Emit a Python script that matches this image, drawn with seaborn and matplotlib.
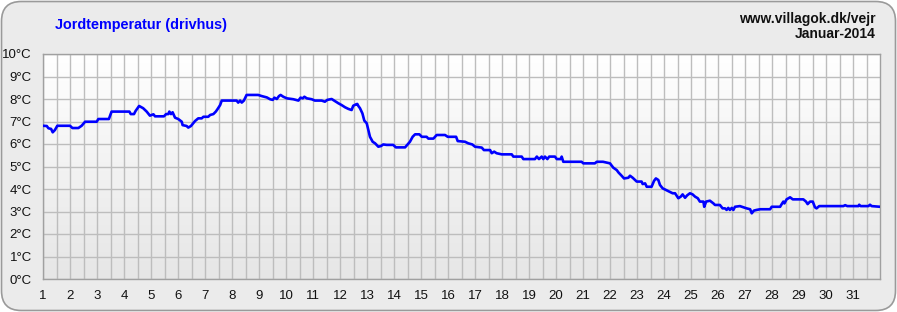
import numpy as np
import pandas as pd
import matplotlib
matplotlib.use("Agg")
import matplotlib.pyplot as plt
from matplotlib.patches import FancyBboxPatch
import seaborn as sns

title = "Jordtemperatur (drivhus)"
site = "www.villagok.dk/vejr"
period = "Januar-2014"

day_ticks = list(range(1, 32))
temp_ticks = list(range(0, 11))
temp_labels = [f"{t}°C" for t in temp_ticks]

# readings, split into stretches of the month
days_1 = [1.00, 1.14, 1.20, 1.30, 1.36, 1.44, 1.53, 2.00, 2.09, 2.31,
          2.43, 2.56, 2.99, 3.05, 3.44, 3.54, 4.20, 4.25, 4.37, 4.43,
          4.56, 4.71, 4.84, 4.96, 5.09, 5.15, 5.48, 5.56, 5.64, 5.68,
          5.74, 5.80, 5.89, 6.01, 6.14]
temps_1 = [6.81, 6.80, 6.70, 6.67, 6.52, 6.62, 6.81, 6.81, 6.71, 6.71,
           6.81, 6.99, 6.99, 7.11, 7.11, 7.44, 7.44, 7.33, 7.33, 7.47,
           7.69, 7.59, 7.44, 7.26, 7.32, 7.23, 7.23, 7.33, 7.33, 7.44,
           7.33, 7.41, 7.17, 7.11, 6.99]

days_2 = [6.17, 6.32, 6.38, 6.48, 6.63, 6.75, 6.88, 6.94, 7.12, 7.19,
          7.31, 7.40, 7.47, 7.56, 7.62, 8.17, 8.23, 8.30, 8.36, 8.44,
          8.54, 8.97, 9.10, 9.29, 9.41, 9.51, 9.57, 9.66, 9.74, 9.80,
          9.90, 10.03, 10.27, 10.46, 10.54, 10.62, 10.68, 10.77, 10.95, 11.07,
          11.32]
temps_2 = [6.84, 6.80, 6.73, 6.80, 7.02, 7.14, 7.14, 7.21, 7.21, 7.29,
           7.33, 7.44, 7.56, 7.73, 7.93, 7.93, 7.84, 7.93, 7.84, 7.93,
           8.18, 8.18, 8.13, 8.07, 7.99, 7.96, 8.06, 8.00, 8.13, 8.18,
           8.10, 8.03, 7.99, 7.93, 8.06, 8.03, 8.10, 8.03, 7.99, 7.93,
           7.93]

days_3 = [11.44, 11.53, 11.69, 11.81, 11.94, 12.06, 12.19, 12.31, 12.43, 12.49,
          12.59, 12.64, 12.68, 12.74, 12.83, 12.90, 12.99, 13.05, 13.11, 13.21,
          13.30, 13.42, 13.52, 13.60, 13.73, 13.97, 14.07, 14.41, 14.49, 14.59,
          14.69, 14.78, 14.94, 15.03, 15.21, 15.27, 15.46, 15.58, 15.89, 15.99,
          16.30, 16.36]
temps_3 = [7.88, 7.96, 8.00, 7.91, 7.81, 7.73, 7.63, 7.56, 7.51, 7.70,
           7.76, 7.78, 7.69, 7.59, 7.36, 7.04, 6.92, 6.62, 6.32, 6.10,
           6.03, 5.88, 5.91, 5.98, 5.96, 5.96, 5.85, 5.85, 5.96, 6.10,
           6.32, 6.43, 6.43, 6.32, 6.32, 6.24, 6.24, 6.40, 6.40, 6.32,
           6.32, 6.13]

days_4 = [16.63, 16.75, 16.90, 17.00, 17.25, 17.33, 17.56, 17.62, 17.71, 17.80,
          17.99, 18.36, 18.42, 18.73, 18.79, 19.22, 19.29, 19.37, 19.47, 19.53,
          19.59, 19.68, 19.75, 19.96, 20.03, 20.17, 20.21, 20.27, 20.95, 21.01,
          21.44, 21.51, 21.74]
temps_4 = [6.10, 6.03, 5.98, 5.88, 5.84, 5.73, 5.73, 5.59, 5.66, 5.59,
           5.54, 5.54, 5.44, 5.44, 5.33, 5.33, 5.44, 5.33, 5.44, 5.33,
           5.44, 5.33, 5.44, 5.44, 5.33, 5.33, 5.44, 5.21, 5.21, 5.14,
           5.14, 5.21, 5.21]

days_5 = [22.00, 22.12, 22.25, 22.31, 22.43, 22.52, 22.68, 22.74, 22.84, 22.93,
          22.99, 23.17, 23.21, 23.30, 23.36, 23.54, 23.63, 23.70, 23.79, 23.85,
          23.95, 24.07, 24.20, 24.32, 24.41, 24.53, 24.62, 24.69, 24.78, 24.86,
          24.96, 25.06, 25.15, 25.25, 25.33, 25.46, 25.49, 25.56, 25.70, 25.83,
          25.89, 26.07, 26.17, 26.26, 26.32, 26.38, 26.44, 26.51, 26.57, 26.63]
temps_5 = [5.14, 4.95, 4.84, 4.74, 4.59, 4.47, 4.50, 4.59, 4.50, 4.40,
           4.33, 4.33, 4.22, 4.25, 4.10, 4.10, 4.36, 4.47, 4.40, 4.18,
           4.03, 3.96, 3.88, 3.81, 3.81, 3.59, 3.66, 3.76, 3.61, 3.72,
           3.81, 3.76, 3.66, 3.59, 3.44, 3.44, 3.21, 3.44, 3.48, 3.36,
           3.29, 3.29, 3.14, 3.14, 3.07, 3.16, 3.07, 3.16, 3.07, 3.21]

days_6 = [26.81, 27.06, 27.19, 27.25, 27.33, 27.43, 27.56, 27.93, 27.99, 28.30,
          28.36, 28.42, 28.46, 28.54, 28.67, 28.77, 29.16, 29.26, 29.32, 29.41,
          29.51, 29.59, 29.65, 29.75, 29.84, 30.64, 30.71, 30.79, 31.20, 31.23,
          31.28, 31.57, 31.63, 31.69, 32.00]
temps_6 = [3.24, 3.14, 3.10, 2.92, 3.04, 3.07, 3.10, 3.10, 3.21, 3.21,
           3.33, 3.44, 3.36, 3.54, 3.63, 3.54, 3.54, 3.44, 3.33, 3.44,
           3.44, 3.19, 3.14, 3.24, 3.24, 3.24, 3.28, 3.24, 3.24, 3.30,
           3.24, 3.24, 3.30, 3.24, 3.21]

days = days_1 + days_2 + days_3 + days_4 + days_5 + days_6
temps = temps_1 + temps_2 + temps_3 + temps_4 + temps_5 + temps_6
n = min(len(days), len(temps))
df = pd.DataFrame({"day": days[:n], "temp": temps[:n]})

sns.set_theme(style="white")
plt.rcParams["font.family"] = ["Liberation Sans", "DejaVu Sans"]

W, H = 897, 312
fig = plt.figure(figsize=(W / 100, H / 100), dpi=100)
fig.patch.set_facecolor("white")

panel = FancyBboxPatch((1.5 / W, 1.5 / H), (W - 3) / W, (H - 3) / H,
                       boxstyle="round,pad=0,rounding_size=0.022",
                       transform=fig.transFigure, facecolor="#ebebeb",
                       edgecolor="#9a9a9a", linewidth=1.2, zorder=-10,
                       mutation_aspect=W / H)
fig.add_artist(panel)

ax = fig.add_axes([43 / W, (H - 279) / H, 837 / W, 225 / H])
ax.set_zorder(5)
ax.set_facecolor("white")

grad = np.linspace(0, 1, 256)[:, None]
ax.imshow(grad, extent=[0, 1, 0, 1], transform=ax.transAxes, aspect="auto",
          cmap=matplotlib.colors.LinearSegmentedColormap.from_list("g", ["#e6e6e6", "#ffffff"]),
          origin="lower", zorder=0)

sns.lineplot(data=df, x="day", y="temp", ax=ax, color="#0000ff", linewidth=1.9,
             estimator=None, sort=False, zorder=3)

ax.set_xlim(1, 32)
ax.set_ylim(0, 10)
ax.set_xticks(day_ticks)
ax.set_xticklabels([str(d) for d in day_ticks])
ax.set_xticks(np.arange(1.5, 32, 1.0), minor=True)
ax.set_yticks(temp_ticks)
ax.set_yticklabels(temp_labels)
ax.grid(True, which="major", color="#bdbdbd", linewidth=1.0)
ax.grid(True, which="minor", axis="x", color="#bdbdbd", linewidth=1.0)
ax.tick_params(axis="both", which="both", length=0, labelsize=9.5, colors="#111111")
ax.tick_params(axis="x", pad=8)
ax.tick_params(axis="y", pad=8)
ax.set_xlabel("")
ax.set_ylabel("")
for s in ax.spines.values():
    s.set_color("#a0a0a0")
    s.set_linewidth(1.0)

fig.text(55 / W, 1 - 25 / H, title, color="#0000ff", fontsize=10.4, fontweight="bold",
         ha="left", va="center")
fig.text(876 / W, 1 - 19 / H, site, color="#111111", fontsize=10, fontweight="bold",
         ha="right", va="center")
fig.text(876 / W, 1 - 34 / H, period, color="#111111", fontsize=10, fontweight="bold",
         ha="right", va="center")

fig.savefig("out.png", dpi=100, facecolor=fig.get_facecolor())
